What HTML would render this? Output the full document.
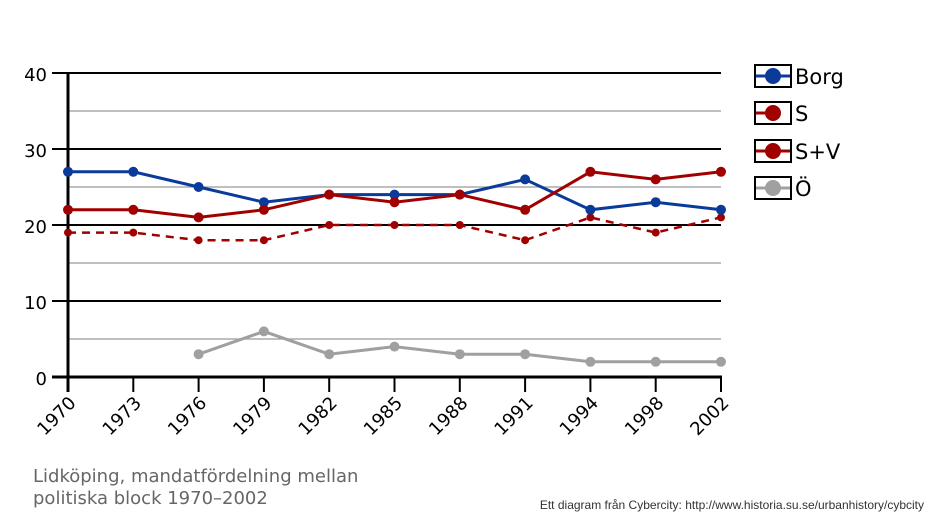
<!DOCTYPE html>
<html><head><meta charset="utf-8"><style>
body{margin:0;background:#fff;}
svg{display:block;font-family:"DejaVu Sans","Liberation Sans",sans-serif;}
</style></head><body>
<svg width="938" height="521" viewBox="0 0 938 521">
<g stroke="#999" stroke-width="1.3">
<line x1="68" y1="111" x2="721" y2="111"/>
<line x1="68" y1="187" x2="721" y2="187"/>
<line x1="68" y1="263" x2="721" y2="263"/>
<line x1="68" y1="339" x2="721" y2="339"/>
</g>
<g stroke="#000" stroke-width="2">
<line x1="52" y1="73" x2="721" y2="73"/>
<line x1="52" y1="149" x2="721" y2="149"/>
<line x1="52" y1="225" x2="721" y2="225"/>
<line x1="52" y1="301" x2="721" y2="301"/>
</g>
<line x1="52" y1="377" x2="722" y2="377" stroke="#000" stroke-width="3"/>
<line x1="68" y1="73" x2="68" y2="392" stroke="#000" stroke-width="3"/>
<g stroke="#000" stroke-width="2">
<line x1="133.3" y1="377" x2="133.3" y2="392"/><line x1="198.6" y1="377" x2="198.6" y2="392"/><line x1="263.9" y1="377" x2="263.9" y2="392"/><line x1="329.2" y1="377" x2="329.2" y2="392"/><line x1="394.5" y1="377" x2="394.5" y2="392"/><line x1="459.8" y1="377" x2="459.8" y2="392"/><line x1="525.1" y1="377" x2="525.1" y2="392"/><line x1="590.4" y1="377" x2="590.4" y2="392"/><line x1="655.7" y1="377" x2="655.7" y2="392"/><line x1="721" y1="377" x2="721" y2="392"/>
</g>
<g font-size="18" text-anchor="end" fill="#000">
<text x="47" y="81">40</text><text x="47" y="157">30</text><text x="47" y="233">20</text><text x="47" y="309">10</text><text x="47" y="385">0</text>
</g>
<g font-size="18" text-anchor="end" fill="#000">
<text transform="translate(77,404) rotate(-45)">1970</text>
<text transform="translate(142.3,404) rotate(-45)">1973</text>
<text transform="translate(207.6,404) rotate(-45)">1976</text>
<text transform="translate(272.9,404) rotate(-45)">1979</text>
<text transform="translate(338.2,404) rotate(-45)">1982</text>
<text transform="translate(403.5,404) rotate(-45)">1985</text>
<text transform="translate(468.8,404) rotate(-45)">1988</text>
<text transform="translate(534.1,404) rotate(-45)">1991</text>
<text transform="translate(599.4,404) rotate(-45)">1994</text>
<text transform="translate(664.7,404) rotate(-45)">1998</text>
<text transform="translate(730,404) rotate(-45)">2002</text>
</g>
<polyline fill="none" stroke="#a0a0a0" stroke-width="3" points="198.6,354.2 263.9,331.4 329.2,354.2 394.5,346.6 459.8,354.2 525.1,354.2 590.4,361.8 655.7,361.8 721,361.8"/>
<g fill="#a0a0a0"><circle cx="198.6" cy="354.2" r="5"/><circle cx="263.9" cy="331.4" r="5"/><circle cx="329.2" cy="354.2" r="5"/><circle cx="394.5" cy="346.6" r="5"/><circle cx="459.8" cy="354.2" r="5"/><circle cx="525.1" cy="354.2" r="5"/><circle cx="590.4" cy="361.8" r="5"/><circle cx="655.7" cy="361.8" r="5"/><circle cx="721" cy="361.8" r="5"/></g>
<polyline fill="none" stroke="#a00000" stroke-width="2.5" stroke-dasharray="8,6" points="68,232.6 133.3,232.6 198.6,240.2 263.9,240.2 329.2,225 394.5,225 459.8,225 525.1,240.2 590.4,217.4 655.7,232.6 721,217.4"/>
<g fill="#a00000"><circle cx="68" cy="232.6" r="4"/><circle cx="133.3" cy="232.6" r="4"/><circle cx="198.6" cy="240.2" r="4"/><circle cx="263.9" cy="240.2" r="4"/><circle cx="329.2" cy="225" r="4"/><circle cx="394.5" cy="225" r="4"/><circle cx="459.8" cy="225" r="4"/><circle cx="525.1" cy="240.2" r="4"/><circle cx="590.4" cy="217.4" r="4"/><circle cx="655.7" cy="232.6" r="4"/><circle cx="721" cy="217.4" r="4"/></g>
<polyline fill="none" stroke="#0a3a9a" stroke-width="3" points="68,171.8 133.3,171.8 198.6,187 263.9,202.2 329.2,194.6 394.5,194.6 459.8,194.6 525.1,179.4 590.4,209.8 655.7,202.2 721,209.8"/>
<g fill="#0a3a9a"><circle cx="68" cy="171.8" r="5"/><circle cx="133.3" cy="171.8" r="5"/><circle cx="198.6" cy="187" r="5"/><circle cx="263.9" cy="202.2" r="5"/><circle cx="329.2" cy="194.6" r="5"/><circle cx="394.5" cy="194.6" r="5"/><circle cx="459.8" cy="194.6" r="5"/><circle cx="525.1" cy="179.4" r="5"/><circle cx="590.4" cy="209.8" r="5"/><circle cx="655.7" cy="202.2" r="5"/><circle cx="721" cy="209.8" r="5"/></g>
<polyline fill="none" stroke="#a00000" stroke-width="3" points="68,209.8 133.3,209.8 198.6,217.4 263.9,209.8 329.2,194.6 394.5,202.2 459.8,194.6 525.1,209.8 590.4,171.8 655.7,179.4 721,171.8"/>
<g fill="#a00000"><circle cx="68" cy="209.8" r="5"/><circle cx="133.3" cy="209.8" r="5"/><circle cx="198.6" cy="217.4" r="5"/><circle cx="263.9" cy="209.8" r="5"/><circle cx="329.2" cy="194.6" r="5"/><circle cx="394.5" cy="202.2" r="5"/><circle cx="459.8" cy="194.6" r="5"/><circle cx="525.1" cy="209.8" r="5"/><circle cx="590.4" cy="171.8" r="5"/><circle cx="655.7" cy="179.4" r="5"/><circle cx="721" cy="171.8" r="5"/></g>
<g stroke="#000" stroke-width="2" fill="#fff">
<rect x="755" y="65" width="36" height="22"/><rect x="755" y="102" width="36" height="22"/><rect x="755" y="140" width="36" height="22"/><rect x="755" y="177" width="36" height="22"/>
</g>
<line x1="756" y1="76" x2="790" y2="76" stroke="#0a3a9a" stroke-width="3"/><circle cx="773" cy="76" r="8" fill="#0a3a9a"/>
<line x1="756" y1="113" x2="766" y2="113" stroke="#a00000" stroke-width="3"/><circle cx="773" cy="113" r="8" fill="#a00000"/>
<line x1="756" y1="151" x2="790" y2="151" stroke="#a00000" stroke-width="3"/><circle cx="773" cy="151" r="8" fill="#a00000"/>
<line x1="756" y1="188" x2="790" y2="188" stroke="#a0a0a0" stroke-width="3"/><circle cx="773" cy="188" r="8" fill="#a0a0a0"/>
<g font-size="21" fill="#000">
<text x="795" y="84">Borg</text><text x="795" y="121">S</text><text x="795" y="159">S+V</text><text x="795" y="196">Ö</text>
</g>
<g font-size="18" fill="#666">
<text x="33" y="482">Lidköping, mandatfördelning mellan</text>
<text x="33" y="504">politiska block 1970–2002</text>
</g>
<text x="924" y="509" font-size="12" fill="#333" text-anchor="end" font-family="Liberation Sans, sans-serif">Ett diagram från Cybercity: http://www.historia.su.se/urbanhistory/cybcity</text>
</svg>
</body></html>
